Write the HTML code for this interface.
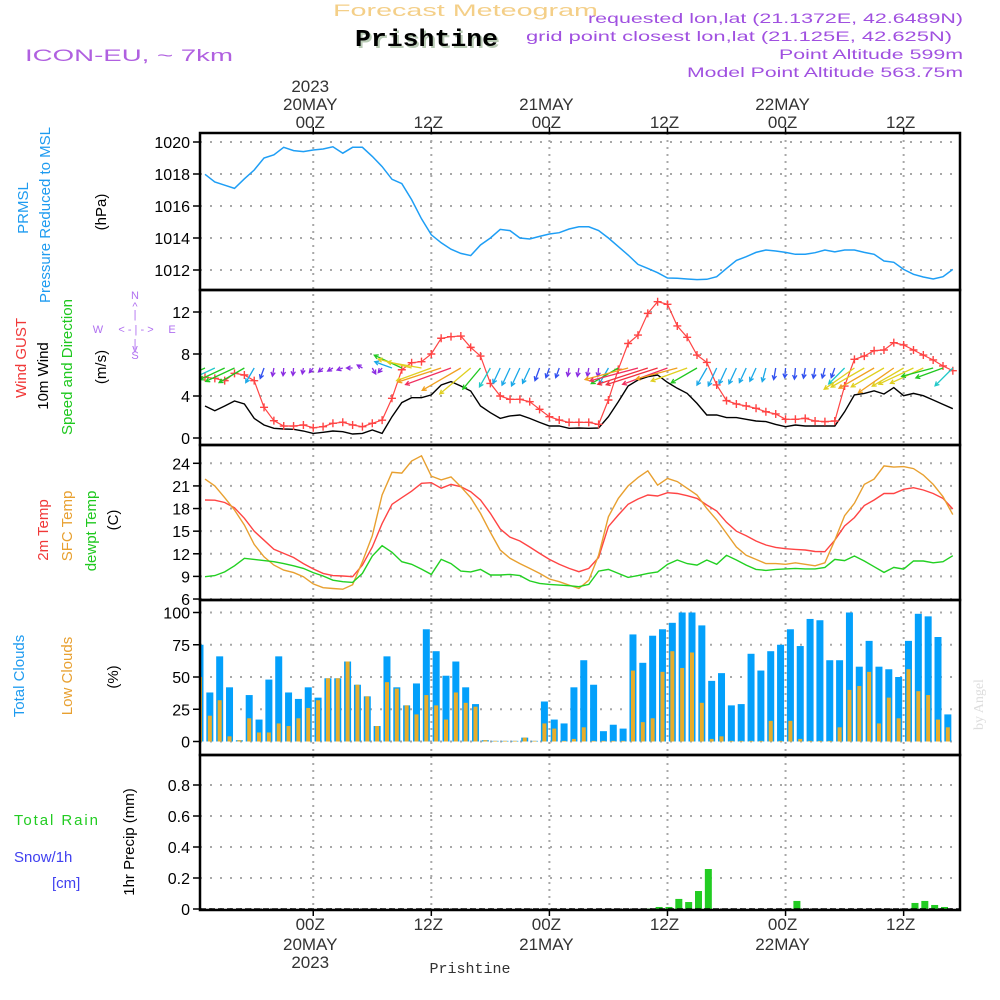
<!DOCTYPE html>
<html><head><meta charset="utf-8"><style>
html,body{margin:0;padding:0;background:#fff;}
svg{display:block;font-family:"Liberation Sans",sans-serif;}
</style></head><body>
<svg id="chart" width="1000" height="1000" viewBox="0 0 1000 1000" xmlns="http://www.w3.org/2000/svg">
<rect x="0" y="0" width="1000" height="1000" fill="#fff"/>
<g id="header">
<text x="333" y="16" font-size="17" fill="#f4cf88" textLength="265" lengthAdjust="spacingAndGlyphs">Forecast Meteogram</text>
<text x="357" y="48" font-size="24" font-weight="bold" font-family="Liberation Mono, monospace" fill="#b9cbb5" textLength="143" lengthAdjust="spacingAndGlyphs">Prishtine</text>
<text x="355" y="46" font-size="24" font-weight="bold" font-family="Liberation Mono, monospace" fill="#000" textLength="143" lengthAdjust="spacingAndGlyphs">Prishtine</text>
<text x="25" y="61" font-size="17" fill="#b060e0" textLength="208" lengthAdjust="spacingAndGlyphs">ICON-EU, ~ 7km</text>
<text x="588" y="23" font-size="14" fill="#a050e0" textLength="375" lengthAdjust="spacingAndGlyphs">requested lon,lat (21.1372E, 42.6489N)</text>
<text x="526" y="41" font-size="14" fill="#a050e0" textLength="426" lengthAdjust="spacingAndGlyphs">grid point closest lon,lat (21.125E, 42.625N)</text>
<text x="779" y="59" font-size="14" fill="#a050e0" textLength="184" lengthAdjust="spacingAndGlyphs">Point Altitude 599m</text>
<text x="687" y="77" font-size="14" fill="#a050e0" textLength="276" lengthAdjust="spacingAndGlyphs">Model Point Altitude 563.75m</text>
<text transform="translate(983,730) rotate(-90)" font-size="14" fill="#ddd" font-family="Liberation Serif, serif">by Angel</text>
</g>
<g id="leftlabels" font-size="15">
<text transform="translate(28,208) rotate(-90)" text-anchor="middle" fill="#1e9bf0">PRMSL</text>
<text transform="translate(50,215) rotate(-90)" text-anchor="middle" fill="#1e9bf0">Pressure Reduced to MSL</text>
<text transform="translate(106,212) rotate(-90)" text-anchor="middle" fill="#000">(hPa)</text>
<text transform="translate(26,358) rotate(-90)" text-anchor="middle" fill="#f03838">Wind GUST</text>
<text transform="translate(48,376) rotate(-90)" text-anchor="middle" fill="#000">10m Wind</text>
<text transform="translate(72,367) rotate(-90)" text-anchor="middle" fill="#1ec81e">Speed and Direction</text>
<text transform="translate(106,367) rotate(-90)" text-anchor="middle" fill="#000">(m/s)</text>
<g fill="#b070f0" font-size="11" text-anchor="middle">
<text x="135" y="299">N</text><text x="135" y="310">^</text><text x="135" y="318">|</text>
<text x="98" y="333">W</text><text x="136" y="333">&lt; - | - &gt;</text><text x="172" y="333">E</text>
<text x="135" y="347">|</text><text x="135" y="352">v</text><text x="135" y="359">S</text>
</g>
<text transform="translate(48,530) rotate(-90)" text-anchor="middle" fill="#f03838">2m Temp</text>
<text transform="translate(72,526) rotate(-90)" text-anchor="middle" fill="#e8a030">SFC Temp</text>
<text transform="translate(96,531) rotate(-90)" text-anchor="middle" fill="#1ec81e">dewpt Temp</text>
<text transform="translate(118,520) rotate(-90)" text-anchor="middle" fill="#000">(C)</text>
<text transform="translate(24,676) rotate(-90)" text-anchor="middle" fill="#1e9bf0">Total Clouds</text>
<text transform="translate(72,676) rotate(-90)" text-anchor="middle" fill="#e8a030">Low Clouds</text>
<text transform="translate(118,677) rotate(-90)" text-anchor="middle" fill="#000">(%)</text>
<text transform="translate(134,842) rotate(-90)" text-anchor="middle" fill="#000">1hr Precip (mm)</text>
<text x="14" y="825" fill="#22cc22" textLength="84" lengthAdjust="spacing">Total  Rain</text>
<text x="14" y="862" fill="#4040f0">Snow/1h</text>
<text x="52" y="888" fill="#4040f0">[cm]</text>
</g>
<defs><clipPath id="plotclip"><rect x="200" y="133" width="760" height="777"/></clipPath></defs>
<g id="grid"></g>
<g id="marks" clip-path="url(#plotclip)"></g>
<g id="axes"></g>
</svg>
<script>
const hours = Array.from({length:77},(_, i)=>i); // hours since 13Z 19 May
const timeTickHours = [11,23,35,47,59,71];
const timeTickLabels = ["00Z","12Z","00Z","12Z","00Z","12Z"];
const dateTickHours = [11,35,59];
const dateTickLabels = ["20MAY","21MAY","22MAY"];
const pressureTicks = [1020,1018,1016,1014,1012];
const windTicks = [12,8,4,0];
const tempTicks = [24,21,18,15,12,9,6];
const cloudTicks = [100,75,50,25,0];
const precipTicks = [0.8,0.6,0.4,0.2,0];
const pressure = [1017.98,1017.5,1017.3,1017.1,1017.7,1018.25,1019.0,1019.2,1019.67,1019.46,1019.4,1019.5,1019.56,1019.7,1019.3,1019.67,1019.67,1019.1,1018.46,1017.67,1017.4,1016.4,1015.2,1014.2,1013.7,1013.3,1013.04,1012.9,1013.56,1014.0,1014.54,1014.46,1014.0,1013.94,1014.1,1014.25,1014.33,1014.56,1014.7,1014.7,1014.47,1014.0,1013.46,1012.94,1012.35,1012.1,1011.83,1011.5,1011.48,1011.44,1011.4,1011.42,1011.58,1012.1,1012.6,1012.83,1013.1,1013.25,1013.19,1013.1,1012.98,1012.98,1013.08,1013.25,1013.13,1013.25,1013.25,1013.1,1012.98,1012.56,1012.48,1012.04,1011.73,1011.56,1011.44,1011.58,1012.04];
const gust = [5.78,5.68,5.46,6.16,6.0,5.46,2.92,1.65,1.14,1.14,1.24,0.98,1.08,1.4,1.5,1.24,1.08,1.4,1.7,3.78,6.5,7.17,7.27,8.0,9.5,9.65,9.71,8.63,7.8,5.2,4.0,3.68,3.68,3.46,2.73,2.03,1.71,1.49,1.49,1.49,1.3,3.62,6.54,9.0,9.8,11.87,12.98,12.73,10.67,9.59,7.9,7.2,5.05,3.56,3.24,3.05,2.83,2.5,2.29,1.78,1.78,1.87,1.62,1.56,1.62,4.95,7.49,7.8,8.32,8.38,9.08,8.86,8.38,7.9,7.43,6.86,6.41];
const windSpeed = [3.05,2.6,3.05,3.52,3.24,1.87,1.24,0.92,0.86,0.83,0.67,0.44,0.54,0.67,0.6,0.38,0.44,0.76,0.44,2.03,3.37,3.84,3.84,4.1,5.05,5.37,4.95,4.48,3.05,2.41,1.87,2.1,2.19,1.87,1.49,1.14,1.14,0.92,0.95,0.92,0.95,2.03,3.46,4.95,5.52,5.84,6.0,5.3,4.73,4.25,3.3,2.19,2.19,1.94,1.94,1.78,1.62,1.56,1.3,1.08,1.24,1.14,1.14,1.14,1.14,2.5,4.1,4.25,4.5,4.19,4.8,4.03,4.25,4.03,3.62,3.2,2.79];
const windDir = [65,65,65,65,60,30,20,10,5,5,10,40,50,60,70,90,120,330,40,110,115,105,100,70,72,70,60,50,40,30,25,25,25,25,20,20,20,10,10,10,5,30,60,75,75,72,72,70,75,70,60,30,25,25,25,25,25,15,10,5,5,10,10,15,20,45,55,60,60,60,55,60,65,65,75,70,45];
const temp2m = [19.13,19.1,18.8,18.1,16.7,15.0,13.8,12.6,12.05,11.5,10.7,10.0,9.4,9.1,9.05,8.96,10.5,12.9,16.0,18.56,19.44,20.3,21.35,21.43,20.7,21.2,20.9,20.24,19.13,17.36,15.3,14.2,13.7,12.9,12.05,11.25,10.6,10.06,9.62,10.06,11.5,15.6,17.14,18.56,19.27,19.8,19.66,20.1,20.0,19.7,19.35,18.47,17.67,16.17,15.0,14.4,13.7,13.16,12.85,12.67,12.58,12.5,12.3,12.27,13.8,15.68,16.8,18.4,19.13,20.0,20.0,20.55,20.77,20.46,20.0,19.35,17.94];
const tempSfc = [21.9,21.0,19.44,17.8,15.8,13.25,11.6,10.5,9.84,9.5,8.96,8.0,7.5,7.4,7.3,7.9,10.95,14.4,19.8,22.8,22.7,24.3,25.0,22.3,21.8,22.2,20.9,19.44,17.36,14.84,12.5,11.4,10.7,10.06,9.4,8.65,8.3,7.85,7.4,8.5,11.8,16.9,19.35,21.0,22.1,23.0,21.1,22.0,21.57,20.68,19.8,18.0,16.5,14.7,12.9,11.8,11.26,10.7,10.7,10.6,10.8,10.6,10.4,10.8,13.8,17.05,18.7,21.2,21.9,23.65,23.5,23.56,23.3,22.45,21.2,19.57,17.2];
const dewpt = [8.96,9.1,9.6,10.4,11.4,11.26,11.1,10.95,10.7,10.4,10.06,9.5,9.05,8.5,8.3,8.2,9.4,11.7,13.07,12.2,10.95,10.6,9.97,9.26,11.26,10.7,9.7,9.6,9.93,9.18,9.18,9.26,9.1,8.4,8.07,7.94,7.85,7.76,7.63,7.94,9.7,9.93,9.4,8.87,9.1,9.4,9.6,10.6,11.17,10.7,10.5,11.17,10.6,11.8,11.17,10.5,9.93,9.8,9.93,10.0,10.06,10.0,10.0,10.2,11.26,11.1,11.7,11.04,10.28,9.53,10.2,9.97,11.04,11.04,10.8,10.95,11.74];
const totalClouds = [75,38,66,42,1,36,17,48,66,38,33,42,34,49,49,62,44,35,12,66,42,28,45,87,70,51,62,42,29,1,0.5,0.5,0.5,3,0.5,31,17,14,42,63,44,8,13,10,83,61,82,87,92,100,100,90,47,53,28,29,68,55,70,75,87,74,95,94,63,63,100,58,78,58,56,50,78,99,97,81,21];
const lowClouds = [50,20,32,4,1,18,7,7,14,12,18,26,32,49,49,62,44,35,12,46,41,28,21,36,28,17,38,30,27,1,0.5,0.5,0.5,3,0.5,14,10,0.5,2,11,0.5,0.5,0.5,0.5,55,15,18,54,70,57,69,30,2,4,0.5,0.5,0.5,0.5,16,0.5,16,2,0.5,0.5,0.5,11,40,43,54,14,34,18,56,39,36,17,11];
const precipHours = [45,46,47,48,49,50,51,60,72,73,74,75];
const precipValues = [0.003,0.013,0.013,0.065,0.045,0.116,0.258,0.052,0.039,0.052,0.026,0.013];

const NS = "http://www.w3.org/2000/svg";
function X(h){ return 205 + 9.84*h; }
function yP(v){ return 142 + (1020 - v)*16; }
function yW(v){ return 438 - v*10.5; }
function yT(v){ return 463.3 + (24 - v)*7.54; }
function yC(v){ return 741.5 - v*1.29; }
function yR(v){ return 909 - v*155; }
function mk(tag, attrs, parent){ const e=document.createElementNS(NS,tag); for(const k in attrs) e.setAttribute(k,attrs[k]); parent.appendChild(e); return e; }
const grid=document.getElementById('grid'), marks=document.getElementById('marks'), axes=document.getElementById('axes');

// horizontal grid + y tick labels
function hAxis(ticks, yf, name, fmt){
  ticks.forEach(t=>{
    const y=yf(t);
    const g=mk('line',{x1:200,x2:960,y1:y,y2:y,stroke:'#a8a8a8','stroke-width':2,'stroke-dasharray':'2,8'},grid);
    
    
    const tk=mk('line',{x1:193,x2:200,y1:y,y2:y,stroke:'#000','stroke-width':1.5},axes);
    
    
    const tx=mk('text',{x:190,y:y+6,'text-anchor':'end','font-size':16,fill:'#000'},axes);
    tx.textContent = fmt ? fmt(t) : String(t);
    
    
  });
}
hAxis(pressureTicks,yP,'pressure-axis');
hAxis(windTicks,yW,'wind-axis');
hAxis(tempTicks,yT,'temp-axis');
hAxis(cloudTicks,yC,'cloud-axis');
hAxis(precipTicks,yR,'precip-axis',t=>t===0?'0':t.toFixed(1));

// vertical grid + time labels
timeTickHours.forEach((h,i)=>{
  const x=X(h);
  const v=mk('line',{x1:x,x2:x,y1:133,y2:910,stroke:'#a8a8a8','stroke-width':2,'stroke-dasharray':'2,5'},grid);
  
  
  mk('line',{x1:x,x2:x,y1:127,y2:133,stroke:'#000','stroke-width':1.5},axes);
  mk('line',{x1:x,x2:x,y1:910,y2:916,stroke:'#000','stroke-width':1.5},axes);
  const t1=mk('text',{x:x-3,y:128,'text-anchor':'middle','font-size':17,fill:'#333'},axes);
  t1.textContent=timeTickLabels[i];
  
  
  const t2=mk('text',{x:x-3,y:930,'text-anchor':'middle','font-size':17,fill:'#333'},axes);
  t2.textContent=timeTickLabels[i];
  
  
});
dateTickHours.forEach((h,i)=>{
  const x=X(h);
  const d1=mk('text',{x:x-3,y:110,'text-anchor':'middle','font-size':17,fill:'#333'},axes);
  d1.textContent=dateTickLabels[i];
  
  
  const d2=mk('text',{x:x-3,y:950,'text-anchor':'middle','font-size':17,fill:'#333'},axes);
  d2.textContent=dateTickLabels[i];
  
  
});
{
  const y1=mk('text',{x:X(11)-3,y:92,'text-anchor':'middle','font-size':17,fill:'#333'},axes);
  y1.textContent='2023';
  
  
  const y2=mk('text',{x:X(11)-3,y:968,'text-anchor':'middle','font-size':17,fill:'#333'},axes);
  y2.textContent='2023';
  
  
  const loc=mk('text',{x:470,y:973,'text-anchor':'middle','font-size':15,fill:'#333','font-family':'Liberation Mono, monospace'},axes);
  loc.textContent='Prishtine';
  
  
}

// lines
function line(vals, yf, color, name, w){
  const d=vals.map((v,i)=>(i?'L':'M')+X(hours[i]).toFixed(1)+','+yf(v).toFixed(1)).join('');
  const p=mk('path',{d:d,fill:'none',stroke:color,'stroke-width':w||1.4},marks);
  
  
  return p;
}
line(pressure,yP,'#1e9ef5','pressure-line',1.5);
line(windSpeed,yW,'#000','wind-speed-line',1.4);
line(gust,yW,'#ff4444','wind-gust-line',1.2);
gust.forEach((v,i)=>{
  const x=X(hours[i]), y=yW(v);
  const m=mk('path',{d:`M${x-4},${y}h8M${x},${y-4}v8`,stroke:'#ff4444','stroke-width':1.4},marks);
  
  
});
function windColor(s){
  if(s<1) return '#8a2be2';
  if(s<1.5) return '#3050f0';
  if(s<2.2) return '#1aa8e8';
  if(s<3) return '#20c8c8';
  if(s<3.7) return '#20c820';
  if(s<4.5) return '#e0d020';
  if(s<5.2) return '#f0a020';
  if(s<5.6) return '#f03060';
  return '#f03040';
}
windDir.forEach((dir,i)=>{
  const s=windSpeed[i];
  const L=Math.max(6, 9*s);
  const b=(dir+180)*Math.PI/180;
  const x0=X(hours[i]), y0=368;
  const dx=Math.sin(b), dy=-Math.cos(b);
  const x1=x0+dx*L, y1=y0+dy*L;
  const ah=4.5, a1=b+Math.PI-0.5, a2=b+Math.PI+0.5;
  const d=`M${x0},${y0}L${x1},${y1}M${x1+Math.sin(a1)*ah},${y1-Math.cos(a1)*ah}L${x1},${y1}L${x1+Math.sin(a2)*ah},${y1-Math.cos(a2)*ah}`;
  const a=mk('path',{d:d,fill:'none',stroke:windColor(s),'stroke-width':1.3},marks);
  
  
});
line(temp2m,yT,'#ff4444','temp-2m-line',1.4);
line(tempSfc,yT,'#e8a030','temp-sfc-line',1.4);
line(dewpt,yT,'#22d022','dewpt-line',1.4);

// clouds
totalClouds.forEach((v,i)=>{
  const cx=X(hours[i])-5;
  const r=mk('rect',{x:cx-3.5,y:yC(v),width:7,height:yC(0)-yC(v),fill:'#03a0fb'},marks);
  
  
  const lv=lowClouds[i];
  const r2=mk('rect',{x:cx-2,y:yC(lv),width:4,height:yC(0)-yC(lv),fill:'#e8ad2a'},marks);
  
  
});
// precip
precipValues.forEach((v,i)=>{
  const cx=X(precipHours[i])+1.5;
  const r=mk('rect',{x:cx-3.5,y:yR(v),width:7,height:Math.max(0.8,yR(0)-yR(v)),fill:'#22cc22'},marks);
  
  
});
mk('line',{x1:200,x2:960,y1:909,y2:909,stroke:'#000','stroke-width':1.5,'stroke-dasharray':'6,3'},marks);

// panel frames
[[133,290],[290,445],[445,600],[600,755],[755,910]].forEach((p,i)=>{
  const r=mk('rect',{x:200,y:p[0],width:760,height:p[1]-p[0],fill:'none',stroke:'#000','stroke-width':2.5},axes);
  
  
});
</script>
</body></html>
